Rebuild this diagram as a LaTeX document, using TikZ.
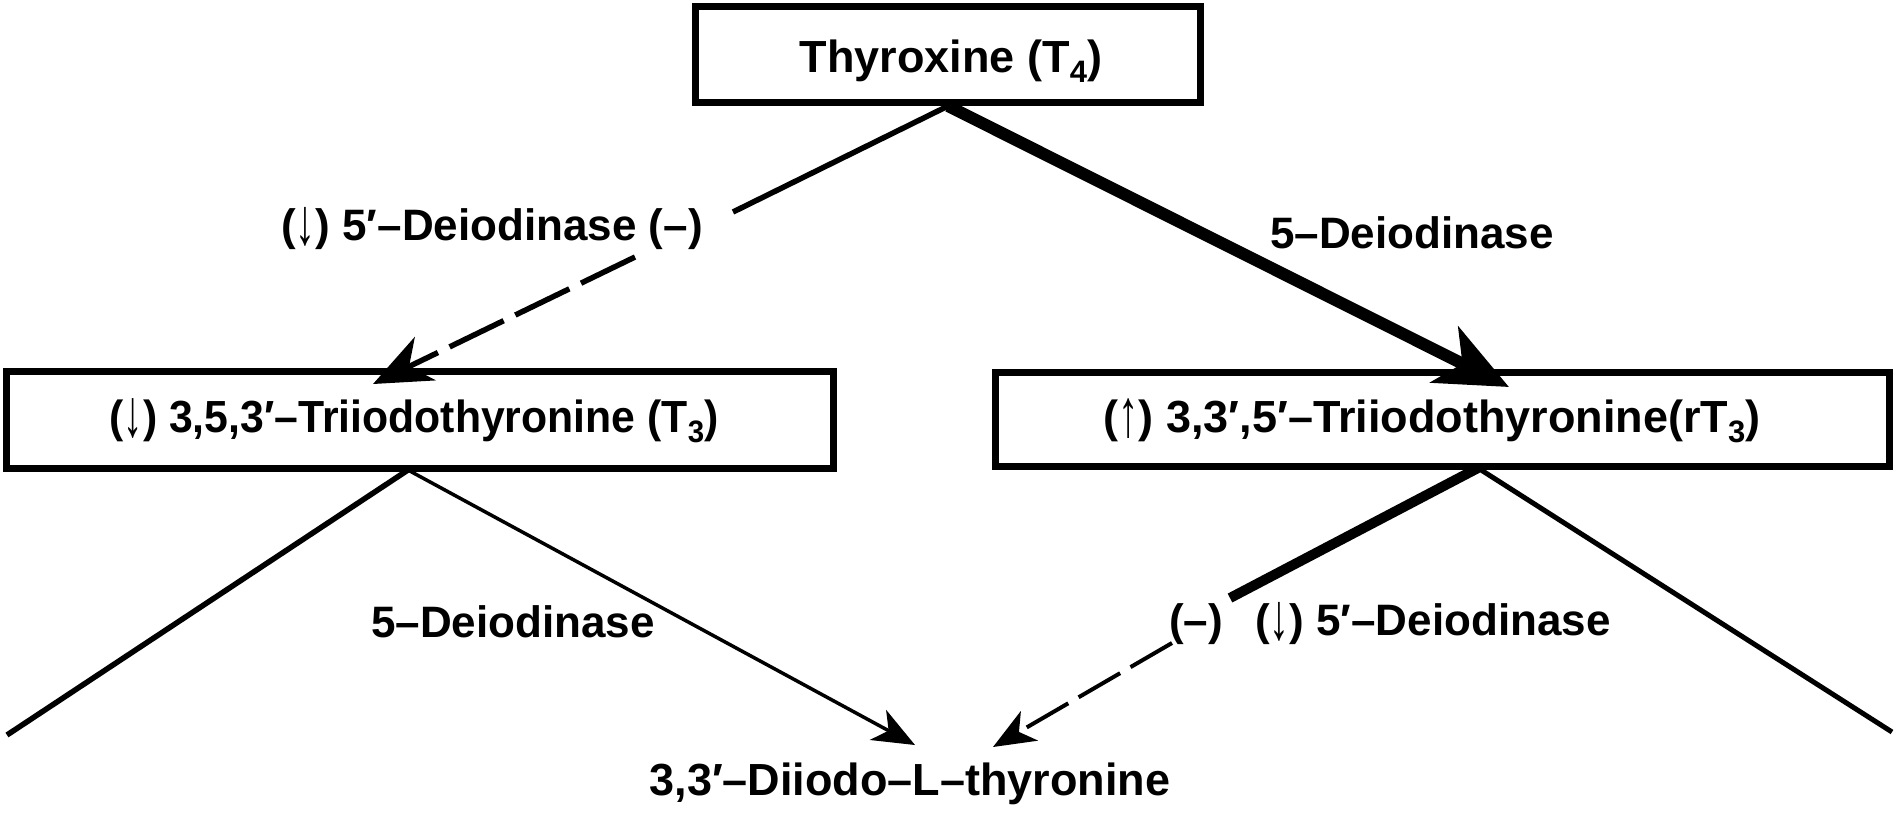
\documentclass[tikz,border=0pt]{standalone}
\usepackage{fontspec}
\setmainfont{Liberation Sans}
\usetikzlibrary{arrows.meta}
\newcommand\subs[1]{\raisebox{-10pt}{\fontsize{31}{31}\selectfont #1}}
\newcommand\dnarr{{\mdseries\raisebox{-0.1em}{\scalebox{0.9}[1.5]{↓}}}}
\newcommand\uparr{{\mdseries\raisebox{-0.1em}{\scalebox{0.9}[1.5]{↑}}}}
\begin{document}
\begin{tikzpicture}[x=1pt,y=-1pt,
  box/.style={draw, line width=7pt, inner sep=0pt, anchor=center},
  boxtext/.style={anchor=base, inner sep=0pt, font=\fontsize{45}{50}\selectfont\bfseries},
  lab/.style={anchor=base, inner sep=0pt, font=\fontsize{44}{50}\selectfont\bfseries},
  thinline/.style={line width=3.5pt},
  outerline/.style={line width=5.5pt},
  bigtip/.style={-{Stealth[length=72pt,width=62pt,inset=20pt]}},
  midtip/.style={-{Stealth[length=58pt,width=48pt,inset=18pt]}},
  smalltip/.style={-{Stealth[length=42pt,width=34pt,inset=12pt]}}
]
\fill[white] (0,0) rectangle (1898,815);
\useasboundingbox (0,0) rectangle (1898,815);

% boxes
\node[box, minimum width=505pt, minimum height=96pt] (t4) at (948,54.5) {};
\node[boxtext] (t4t) at (951,72) {Thyroxine (T\subs{4})};
\node[box, minimum width=827pt, minimum height=97pt] (t3) at (420,420) {};
\node[boxtext] (t3t) at (414,432) {\scalebox{0.95}[1]{(\dnarr) 3,5,3′–Triiodothyronine (T\subs{3})}};
\node[box, minimum width=894pt, minimum height=94pt] (rt3) at (1442.5,419.5) {};
\node[boxtext] (rt3t) at (1432,432) {(\uparr) 3,3′,5′–Triiodothyronine(rT\subs{3})};
\node[boxtext] (dit) at (910,795) {3,3′–Diiodo–L–thyronine};

% coordinates
\coordinate (a2) at (408,470);
\coordinate (a3) at (1478,468);
\coordinate (l1) at (733,212);
\coordinate (l2) at (635,257);
\coordinate (tip1) at (373,384);
\coordinate (tip2) at (1509,387);
\coordinate (tip3) at (915,745);
\coordinate (tip4) at (993,747);
\coordinate (e1) at (7,735);
\coordinate (e2) at (1892,732);
\coordinate (r1) at (1230,598);
\coordinate (r2) at (1172,643);

% connectors from T4
\draw[outerline] (t4.south) -- (l1);
\draw[outerline, dash pattern=on 60pt off 13pt, midtip] (l2) -- (tip1);
\draw[line width=12pt, bigtip] (t4.south) -- (tip2);

% connectors from T3
\draw[outerline] (a2) -- (e1);
\draw[thinline, smalltip] (a2) -- (tip3);

% connectors from rT3
\draw[line width=10pt] (a3) -- (r1);
\draw[line width=4pt, dash pattern=on 48pt off 12pt, smalltip] (r2) -- (tip4);
\draw[line width=5pt] (a3) -- (e2);

% labels
\node[lab] (lab1) at (492,240) {(\dnarr) 5′–Deiodinase (–)};
\node[lab] (lab2) at (1412,248) {5–Deiodinase};
\node[lab] (lab3) at (513,637) {5–Deiodinase};
\node[lab, anchor=base west] (lab4) at (1255,635) {(\dnarr) 5′–Deiodinase};
\node[lab] (lab5) at (1196,635) {(–)};
\end{tikzpicture}
\end{document}
